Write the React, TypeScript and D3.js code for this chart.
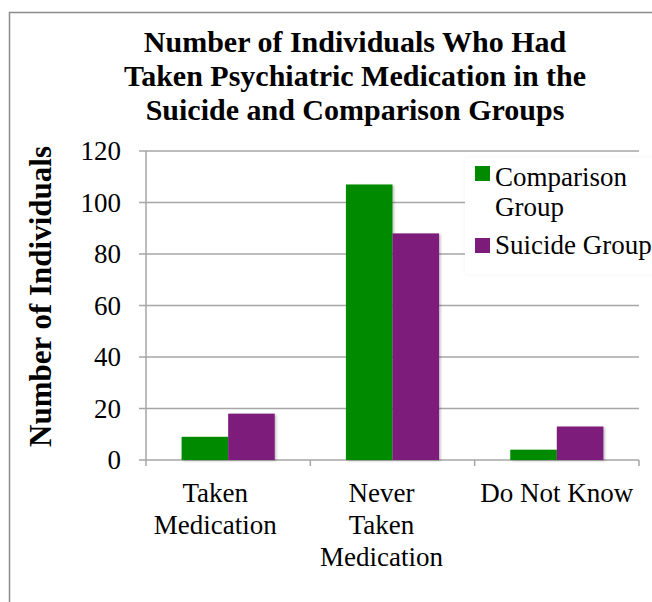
import React from "react";
import * as d3 from "d3";

const categories = ["Taken Medication", "Never Taken Medication", "Do Not Know"];
const categoryLines = [["Taken", "Medication"], ["Never", "Taken", "Medication"], ["Do Not Know"]];
const seriesNames = ["Comparison Group", "Suicide Group"];
const comparisonValues = [9, 107, 4];
const suicideValues = [18, 88, 13];
const yTicks = [0, 20, 40, 60, 80, 100, 120];
const titleLines = [
  "Number of Individuals Who Had",
  "Taken Psychiatric Medication in the",
  "Suicide and Comparison Groups",
];
const colors = ["#008A00", "#7D1B7A"];

export default function App() {
  const W = 652, H = 602;
  const left = 146, right = 639, top = 151, bottom = 460;
  const x = d3.scaleBand<string>().domain(categories).range([left, right]).padding(0);
  const xs = d3.scaleBand<string>().domain(seriesNames).range([0, x.bandwidth()]).paddingInner(0).paddingOuter(0.764);
  const y = d3.scaleLinear().domain([0, 120]).range([bottom, top]);
  const series = [comparisonValues, suicideValues];
  const serif = "'Liberation Serif', 'Times New Roman', serif";
  const grid = "#A6A6A6";
  const labelShift = [-13, -11, 0];

  return (
    <svg width={W} height={H} style={{ position: "absolute", left: 0, top: 0, background: "#fff" }} fontFamily={serif}>
      <defs>
        <filter id="sh" x="-20%" y="-20%" width="150%" height="150%">
          <feDropShadow dx="1.5" dy="1" stdDeviation="1.2" floodColor="#000" floodOpacity="0.25" />
        </filter>
        <filter id="lsh" x="-10%" y="-10%" width="130%" height="130%">
          <feDropShadow dx="0" dy="0" stdDeviation="2" floodColor="#000" floodOpacity="0.05" />
        </filter>
      </defs>
      <rect x={9.5} y={12.5} width={W + 20} height={H + 20} fill="#fff" stroke="#8C8C8C" strokeWidth={1.5} />
      {titleLines.map((t, i) => (
        <text key={i} x={355} y={52 + i * 34} textAnchor="middle" fontWeight="bold" fontSize={30} fill="#000">{t}</text>
      ))}
      <text transform={`translate(51,${(143 + 450) / 2}) rotate(-90)`} textAnchor="middle" fontWeight="bold" fontSize={31} fill="#000">Number of Individuals</text>
      {yTicks.map((t) => (
        <g key={t}>
          <line x1={left - 7} x2={right} y1={y(t)} y2={y(t)} stroke={grid} strokeWidth={1.5} />
          <text x={121} y={y(t) + 9} textAnchor="end" fontSize={27} fill="#000">{t}</text>
        </g>
      ))}
      <line x1={left} x2={left} y1={top} y2={bottom + 6} stroke={grid} strokeWidth={1.5} />
      {categories.map((c) => (
        <line key={c} x1={x(c)! + x.bandwidth()} x2={x(c)! + x.bandwidth()} y1={bottom} y2={bottom + 6} stroke={grid} strokeWidth={1.5} />
      ))}
      {categories.map((c, i) => (
        <g key={c} filter="url(#sh)">
          {series.map((vals, s) => (
            <rect key={s} x={x(c)! + xs(seriesNames[s])!} y={y(vals[i])} width={xs.bandwidth()} height={y(0) - y(vals[i])} fill={colors[s]} />
          ))}
        </g>
      ))}
      {categories.map((c, i) => (
        <text key={c} textAnchor="middle" fontSize={27} fill="#000">
          {categoryLines[i].map((l, j) => (
            <tspan key={j} x={x(c)! + x.bandwidth() / 2 + labelShift[i]} y={502 + j * 32}>{l}</tspan>
          ))}
        </text>
      ))}
      <rect x={465} y={158} width={200} height={116} fill="#fff" filter="url(#lsh)" />
      <rect x={475} y={166} width={15} height={15} fill={colors[0]} />
      <text fontSize={27} fill="#000">
        <tspan x={495} y={186}>Comparison</tspan>
        <tspan x={495} y={216}>Group</tspan>
      </text>
      <rect x={475} y={238} width={15} height={15} fill={colors[1]} />
      <text x={495} y={254} fontSize={27} fill="#000">Suicide Group</text>
    </svg>
  );
}
